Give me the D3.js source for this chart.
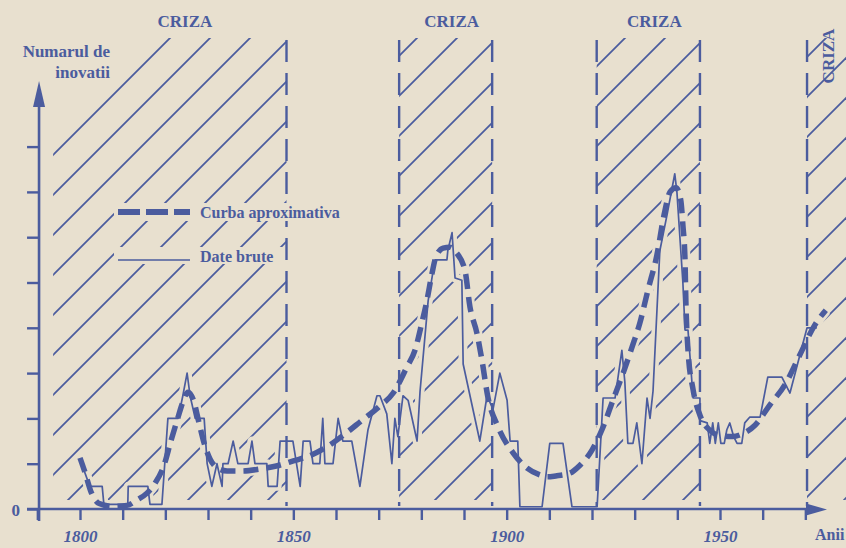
<!DOCTYPE html>
<html><head><meta charset="utf-8">
<script src="https://cdn.jsdelivr.net/npm/d3@7"></script>
<style>html,body{margin:0;padding:0;background:#e8e0cf;} svg{display:block}</style>
</head><body><svg id="c" width="846" height="548"></svg>
<script>
// ---------- data ----------
const rawYears = [1800,1802.3,1805.2,1805.6,1811.2,1811.3,1815.9,1816.4,1819.2,1820.6,1823.0,1824.1,1825.1,1825.8,1827.0,1829.1,1829.8,1830.9,1832.1,1833.3,1833.5,1834.7,1835.9,1837.0,1839.4,1840.3,1841.0,1843.8,1844.1,1846.2,1846.9,1849.9,1851.6,1852.3,1853.9,1854.6,1856.2,1856.9,1857.4,1859.3,1860.5,1861.6,1863.7,1865.6,1867.5,1869.6,1870.3,1871.9,1873.1,1873.8,1874.5,1875.7,1876.9,1879.0,1879.7,1881.6,1883.2,1886.0,1886.2,1887.2,1887.9,1889.5,1889.8,1893.7,1895.4,1896.8,1898.4,1900.1,1900.8,1902.6,1903.1,1908.3,1910.1,1913.2,1915.3,1921.2,1922.6,1925.4,1927.0,1927.7,1928.4,1929.6,1930.5,1931.7,1932.9,1933.6,1934.3,1935.9,1937.6,1939.4,1939.9,1941.3,1941.8,1942.5,1943.7,1945.3,1945.3,1947.0,1947.6,1948.3,1948.9,1949.6,1950.2,1951.0,1951.6,1952.3,1953.2,1954.0,1955.1,1955.8,1957.0,1959.4,1961.2,1964.5,1966.4,1970.4,1972.7];
const rawValues = [1.1,0.5,0.5,0.1,0.1,0.5,0.5,0.1,0.1,2.0,2.0,2.5,3.0,2.5,2.0,2.0,1.0,0.5,1.0,0.5,1.0,1.0,1.5,1.0,1.0,1.5,1.0,1.0,0.5,0.5,1.5,1.5,0.5,1.5,1.5,1.0,1.0,2.0,1.0,1.0,2.0,1.5,1.5,0.5,1.75,2.5,2.5,2.1,1.0,2.0,1.6,2.5,2.4,1.5,2.6,4.6,5.5,5.5,5.7,6.1,5.1,5.05,3.2,1.5,2.5,2.2,3.0,2.4,1.5,1.5,0.05,0.05,1.45,1.45,0.05,0.05,2.45,2.45,3.5,2.8,1.45,1.45,1.9,1.0,2.45,2.0,2.6,5.7,6.5,7.4,7.0,5.0,3.95,3.95,2.45,2.45,1.95,1.9,1.45,1.9,1.45,1.9,1.45,1.45,1.75,1.9,1.6,1.45,1.45,1.9,2.03,2.03,2.91,2.91,2.56,4.0,4.0];

const approxYears = [1800,1801.2,1802.5,1804.5,1807.5,1811,1813.4,1815.7,1817.6,1819.7,1821.3,1822.9,1824.1,1825.3,1826.6,1827.9,1829.1,1830.5,1832.3,1834.5,1838,1842,1846,1850,1854,1858,1862,1866,1870,1873.4,1876.6,1878.5,1880.1,1881.3,1882.5,1883.4,1885.1,1886.7,1888.1,1890.2,1891.4,1893,1894.2,1895.6,1898,1901.5,1904.8,1907.8,1909.5,1911.5,1914.8,1917,1920,1922.6,1924.9,1927.3,1929.4,1931.2,1933.1,1935.2,1936.9,1938.3,1939.7,1940.8,1941.3,1941.8,1942,1942.5,1943.7,1945.3,1947.6,1950,1953,1955,1958.2,1961.7,1965.2,1968.7,1972.2,1974.8];
const approxValues = [1.13,0.8,0.4,0.12,0.06,0.08,0.2,0.35,0.57,0.97,1.5,2.0,2.36,2.58,2.4,1.9,1.45,1.1,0.9,0.84,0.84,0.88,0.95,1.06,1.18,1.38,1.65,1.95,2.25,2.56,3.13,3.5,4.1,4.6,5.2,5.56,5.76,5.78,5.67,5.28,4.46,3.89,3.29,2.47,1.81,1.24,0.9,0.75,0.71,0.73,0.79,0.95,1.3,1.81,2.4,3.0,3.58,4.1,4.83,5.6,6.5,7.0,7.09,6.82,6.27,5.5,4.6,3.5,2.63,2.07,1.74,1.62,1.6,1.65,1.85,2.3,2.74,3.4,4.06,4.39];

const crisisStart = [1793.7, 1874.8, 1921.1, 1970.4];
const crisisEnd   = [1848.4, 1896.6, 1945.3, 1990];
const crisisLabels = ["CRIZA","CRIZA","CRIZA","CRIZA"];
const crisisLabelYears = [1824.6, 1887.1, 1934.6, null];

const xTickYears = [1790,1800,1810,1820,1830,1840,1850,1860,1870,1880,1890,1900,1910,1920,1930,1940,1950,1960,1970];
const xLabelYears = [1800, 1850, 1900, 1950];
const yTickValues = [0,1,2,3,4,5,6,7,8];
const yLabelValues = [0];
const legendLabels = ["Curba aproximativa", "Date brute"];
const yTitle = ["Numarul de", "inovatii"];
const xTitle = "Anii";

// ---------- styling ----------
const BG = "#e8e0cf", INK = "#4b5c9e";
const FONT = "'Liberation Serif','Times New Roman',serif";
const svg = d3.select("#c");
svg.append("rect").attr("width",846).attr("height",548).attr("fill",BG);

const x = d3.scaleLinear().domain([1800,1950]).range([80,720]);
const y = d3.scaleLinear().domain([0,8]).range([509,146.6]);
const hatchTop = 38, hatchBottom = 500;

// ---------- hatched crisis regions ----------
const defs = svg.append("defs");
const phases = [8, 15, 23, 24];
crisisStart.forEach((s,i) => {
  const xa = Math.max(x(s), 0), xb = Math.min(x(crisisEnd[i]), 846);
  const id = "clip"+i;
  defs.append("clipPath").attr("id",id).append("rect")
    .attr("x",xa).attr("y",hatchTop).attr("width",xb-xa).attr("height",hatchBottom-hatchTop);
  const g = svg.append("g").attr("clip-path",`url(#${id})`);
  const kmin = i===0 ? 208 : xa+hatchTop, kmax = xb+hatchBottom;
  let k = Math.ceil((kmin - phases[i])/40)*40 + phases[i];
  for (; k <= kmax; k += 40) {
    g.append("line").attr("x1",xa-5).attr("y1",k-(xa-5)).attr("x2",xb+5).attr("y2",k-(xb+5))
      .attr("stroke",INK).attr("stroke-width",1.8);
  }
});

// ---------- halos around data (gaps in the hatching) ----------
const rawData = rawYears.map((d,i)=>[d, rawValues[i]]);
const apxData = approxYears.map((d,i)=>[d, approxValues[i]]);
const rawLine = d3.line().x(d=>x(d[0])).y(d=>y(d[1]));
const apxLine = d3.line().x(d=>x(d[0])).y(d=>y(d[1])).curve(d3.curveMonotoneX);
svg.append("path").attr("d",rawLine(rawData)).attr("fill","none").attr("stroke",BG).attr("stroke-width",9).attr("stroke-linejoin","round");
svg.append("path").attr("d",apxLine(apxData)).attr("fill","none").attr("stroke",BG).attr("stroke-width",11);

// ---------- crisis boundary dashed lines ----------
const bounds = [crisisEnd[0], crisisStart[1], crisisEnd[1], crisisStart[2], crisisEnd[2], crisisStart[3]];
svg.selectAll(".bnd").data(bounds).join("line").attr("class","bnd")
  .attr("x1",d=>x(d)).attr("x2",d=>x(d)).attr("y1",40).attr("y2",506)
  .attr("stroke",INK).attr("stroke-width",2.4).attr("stroke-dasharray","22,11");

// crisis labels
crisisLabels.forEach((t,i)=>{
  if (crisisLabelYears[i] != null) {
    svg.append("text").attr("x",x(crisisLabelYears[i])).attr("y",27).attr("text-anchor","middle")
      .attr("font-family",FONT).attr("font-weight","bold").attr("font-size",17).attr("fill",INK).text(t);
  } else {
    svg.append("text").attr("transform",`translate(${x(crisisStart[i])+27},56) rotate(-90)`)
      .attr("text-anchor","middle").attr("font-family",FONT).attr("font-weight","bold").attr("font-size",17).attr("fill",INK).text(t);
  }
});

// ---------- data lines ----------
svg.append("path").attr("d",rawLine(rawData)).attr("fill","none").attr("stroke",INK).attr("stroke-width",1.7).attr("stroke-linejoin","round");
svg.append("path").attr("d",apxLine(apxData)).attr("fill","none").attr("stroke",INK).attr("stroke-width",5.5).attr("stroke-dasharray","15,8");

// ---------- axes ----------
const xAxis = d3.axisBottom(x).tickValues(xTickYears).tickSize(11)
  .tickFormat(d => xLabelYears.includes(d) ? String(d) : "");
const gx = svg.append("g").attr("transform","translate(0,509)").call(xAxis);
gx.select(".domain").remove();
gx.selectAll(".tick line").attr("stroke",INK).attr("stroke-width",2.4);
gx.selectAll(".tick text").attr("y",33).attr("dy",0).attr("fill",INK)
  .attr("font-family",FONT).attr("font-weight","bold").attr("font-style","italic").attr("font-size",17);

const yAxis = d3.axisLeft(y).tickValues(yTickValues).tickSize(12).tickPadding(7)
  .tickFormat(d => yLabelValues.includes(d) ? String(d) : "");
const gy = svg.append("g").attr("transform",`translate(${x(1790.4)},0)`).call(yAxis);
gy.select(".domain").remove();
gy.selectAll(".tick line").attr("stroke",INK).attr("stroke-width",2.4);
gy.selectAll(".tick text").attr("dy","0.36em").attr("fill",INK)
  .attr("font-family",FONT).attr("font-weight","bold").attr("font-size",17);

const ax = x(1790.4);
svg.append("line").attr("x1",27).attr("x2",812).attr("y1",509).attr("y2",509).attr("stroke",INK).attr("stroke-width",2.6);
svg.append("path").attr("d","M827,509.5 L806,503.5 L806,515.5 Z").attr("fill",INK);
svg.append("line").attr("x1",ax).attr("x2",ax).attr("y1",521).attr("y2",100).attr("stroke",INK).attr("stroke-width",2.6);
svg.append("path").attr("d",`M${ax},81 L${ax-6},107 L${ax+6},107 Z`).attr("fill",INK);

svg.append("text").attr("x",815).attr("y",540).attr("font-family",FONT).attr("font-weight","bold")
  .attr("font-size",16).attr("fill",INK).text(xTitle);
yTitle.forEach((t,i)=>{
  svg.append("text").attr("x",110).attr("y",57+i*21).attr("text-anchor","end")
    .attr("font-family",FONT).attr("font-weight","bold").attr("font-size",17).attr("fill",INK).text(t);
});

// ---------- legend ----------
const lg = svg.append("g");
const rows = [{y:212, dash:"22,6", w:6}, {y:260, dash:null, w:1.7}];
rows.forEach((r,i)=>{
  lg.append("rect").attr("x",114).attr("y",r.y-(i===0?9:13)).attr("width",88+legendLabels[i].length*8.2).attr("height",i===0?18:17).attr("fill",BG);
  const l = lg.append("line").attr("x1",118).attr("x2",190).attr("y1",r.y).attr("y2",r.y)
    .attr("stroke",INK).attr("stroke-width",r.w);
  if (r.dash) l.attr("stroke-dasharray",r.dash);
  lg.append("text").attr("x",200).attr("y",r.y+(i===0?6:2)).attr("font-family",FONT).attr("font-weight","bold")
    .attr("font-size",16).attr("fill",INK).text(legendLabels[i]);
});
</script></body></html>
